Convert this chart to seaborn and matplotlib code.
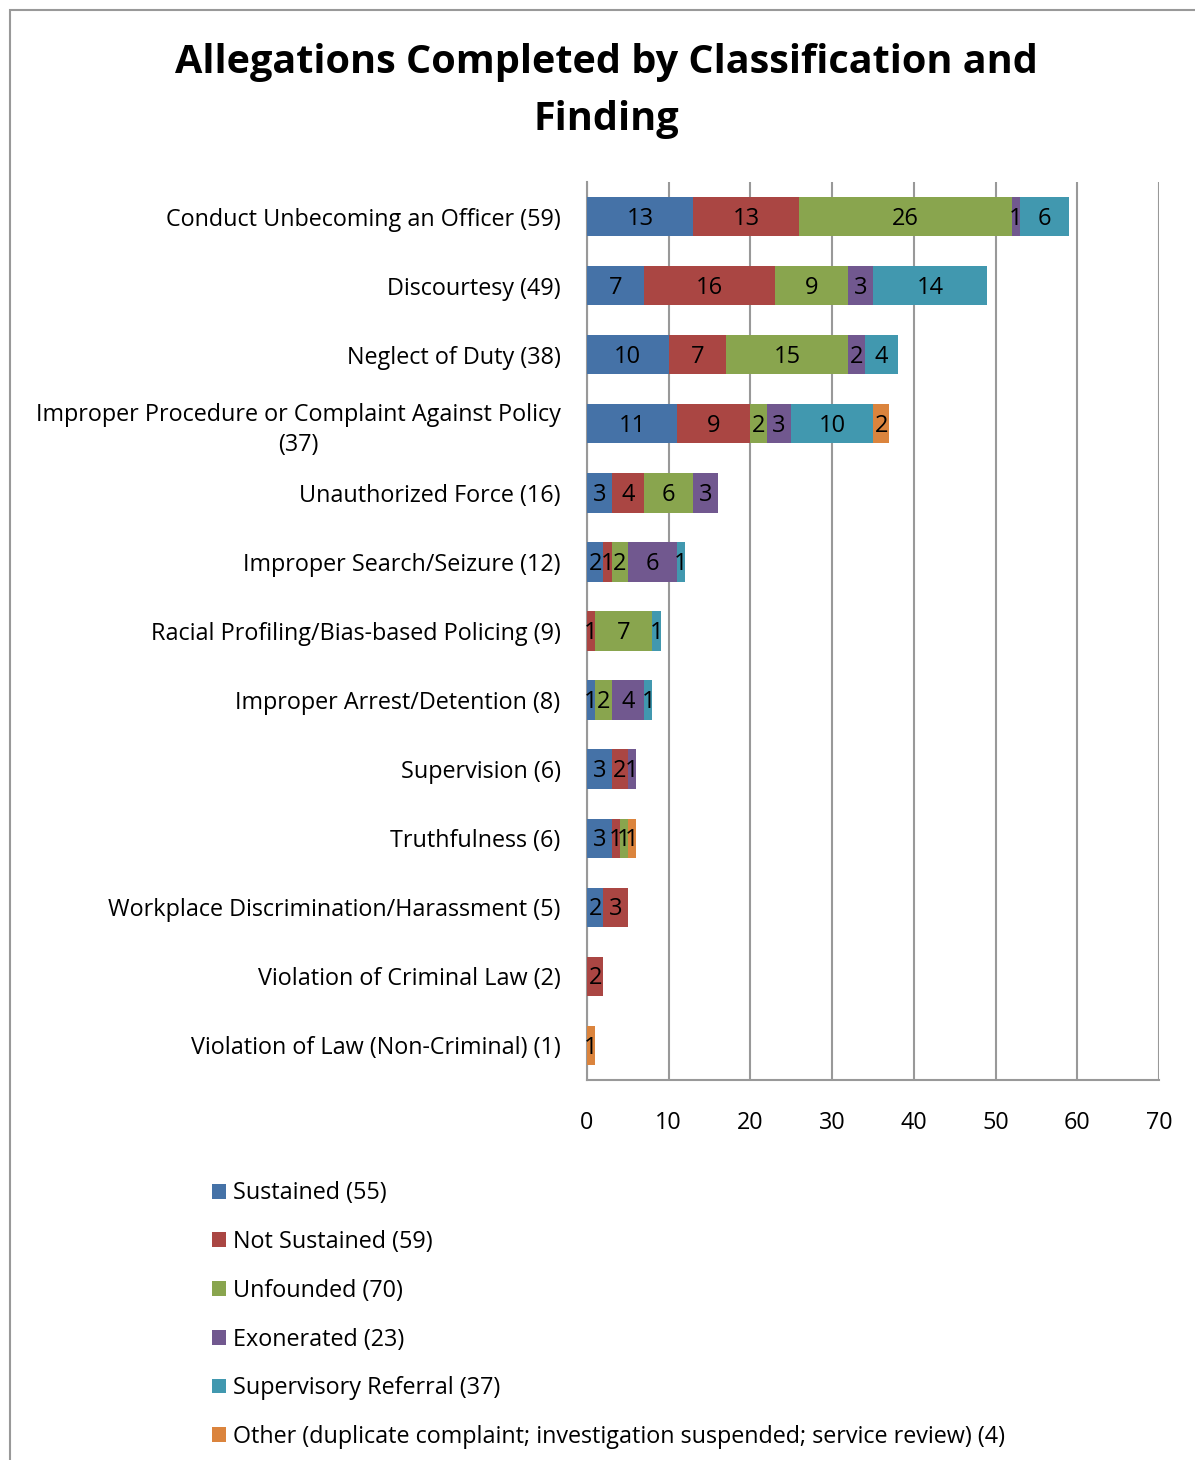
import numpy as np
import pandas as pd
import matplotlib
matplotlib.use("Agg")
import matplotlib.pyplot as plt
from matplotlib.patches import Patch, Rectangle
import seaborn as sns

categories = [
    "Conduct Unbecoming an Officer (59)",
    "Discourtesy (49)",
    "Neglect of Duty (38)",
    "Improper Procedure or Complaint Against Policy\n(37)",
    "Unauthorized Force (16)",
    "Improper Search/Seizure (12)",
    "Racial Profiling/Bias-based Policing (9)",
    "Improper Arrest/Detention (8)",
    "Supervision (6)",
    "Truthfulness (6)",
    "Workplace Discrimination/Harassment (5)",
    "Violation of Criminal Law (2)",
    "Violation of Law (Non-Criminal) (1)",
]
sustained     = [13, 7, 10, 11, 3, 2, 0, 1, 3, 3, 2, 0, 0]
not_sustained = [13, 16, 7, 9, 4, 1, 1, 0, 2, 1, 3, 2, 0]
unfounded     = [26, 9, 15, 2, 6, 2, 7, 2, 0, 1, 0, 0, 0]
exonerated    = [1, 3, 2, 3, 3, 6, 0, 4, 1, 0, 0, 0, 0]
supervisory   = [6, 14, 4, 10, 0, 1, 1, 1, 0, 0, 0, 0, 0]
other         = [0, 0, 0, 2, 0, 0, 0, 0, 0, 1, 0, 0, 1]

series_names = [
    "Sustained (55)",
    "Not Sustained (59)",
    "Unfounded (70)",
    "Exonerated (23)",
    "Supervisory Referral (37)",
    "Other (duplicate complaint; investigation suspended; service review) (4)",
]
series = [sustained, not_sustained, unfounded, exonerated, supervisory, other]
colors = ["#4572A7", "#AA4643", "#89A54E", "#71588F", "#4198AF", "#DB843D"]
x_ticks = [0, 10, 20, 30, 40, 50, 60, 70]

sns.set_theme(style="white")
plt.rcParams["font.family"] = ["Open Sans", "DejaVu Sans"]
plt.rcParams["text.color"] = "black"
plt.rcParams["xtick.color"] = "black"
plt.rcParams["ytick.color"] = "black"

fig = plt.figure(figsize=(11.95, 14.6), dpi=100)
ax = fig.add_axes([587/1195, 1-1080/1460, (1159-587)/1195, (1080-182)/1460])

vals = np.array(series, dtype=float)
cum = np.cumsum(vals, axis=0)
for i in reversed(range(len(series))):
    df = pd.DataFrame({"cat": categories, "v": cum[i]})
    sns.barplot(data=df, x="v", y="cat", orient="h", color=colors[i],
                saturation=1, width=0.57, linewidth=0, ax=ax, zorder=3)

# data labels
for i in range(len(series)):
    for j, v in enumerate(series[i]):
        if v > 0:
            ax.text(cum[i][j] - v/2, j + 0.03, str(v), ha="center", va="center",
                    fontsize=17, color="black", zorder=5)

ax.set_xlim(0, 70)
ax.set_xticks(x_ticks)
ax.set_xlabel("")
ax.set_ylabel("")
ax.grid(axis="x", color="#999999", linewidth=1.5, zorder=0)
ax.set_axisbelow(True)
for s in ["top", "right"]:
    ax.spines[s].set_visible(False)
for s in ["left", "bottom"]:
    ax.spines[s].set_color("#999999")
    ax.spines[s].set_linewidth(1.5)
ax.tick_params(axis="y", length=0, pad=19, labelsize=16.8)
ax.tick_params(axis="x", length=0, pad=22, labelsize=16.8)
for lab in ax.get_yticklabels():
    lab.set_multialignment("center")
    lab.set_linespacing(1.35)
    if "\n" in lab.get_text():
        lab.set_y(lab.get_position()[1])
ax.set_yticks(range(len(categories)), [c for c in categories])
for lab in ax.get_yticklabels():
    lab.set_multialignment("center")
    lab.set_linespacing(1.35)

fig.text(606/1195, 1-91/1460, "Allegations Completed by Classification and\nFinding",
         ha="center", va="center", fontsize=28.5, fontweight="bold", linespacing=1.6)

handles = [Patch(facecolor=c, edgecolor="none") for c in colors]
fig.legend(handles, series_names, loc="upper left",
           bbox_to_anchor=(203/1195, 1-1172/1460), frameon=False,
           fontsize=16.8, handlelength=0.6, handleheight=0.6, handletextpad=0.3,
           labelspacing=1.06, borderaxespad=0)

fig.add_artist(Rectangle((10/1195, -0.05), 1.2, 1.05 - 10/1460, transform=fig.transFigure,
                         fill=False, edgecolor="#999999", linewidth=1.5, clip_on=False))

fig.savefig("out.png", dpi=100)
